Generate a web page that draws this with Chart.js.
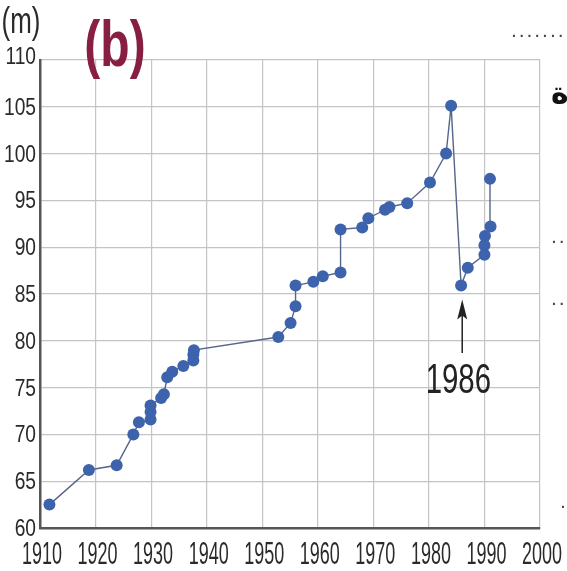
<!DOCTYPE html>
<html>
<head>
<meta charset="utf-8">
<script src="https://cdn.jsdelivr.net/npm/chart.js@4"></script>
<style>
  html, body { margin: 0; padding: 0; background: #ffffff; }
  #wrap { width: 567px; height: 571px; position: relative; }
</style>
</head>
<body>
<div id="wrap"><canvas id="levelChart"></canvas></div>
<script>
// water level readings
const years = [
    1911.7, 1918.8, 1923.8, 1926.8, 1927.8, 1929.9, 1929.9, 1929.9, 1931.8, 1932.3,
    1932.9, 1933.8, 1935.8, 1937.6, 1937.6, 1937.7, 1952.9, 1955.1, 1956.0, 1956.0,
    1959.2, 1960.9, 1964.1, 1964.1, 1968.0, 1969.1, 1972.1, 1972.9, 1976.1, 1980.2,
    1983.1, 1984.0, 1985.8, 1987.0, 1990.0, 1990.0, 1990.1, 1991.1, 1991.0
];
const levels = [
    62.5, 66.2, 66.7, 70.0, 71.3, 71.6, 72.4, 73.1, 73.9, 74.3,
    76.1, 76.7, 77.3, 77.9, 78.5, 79.0, 80.4, 81.9, 83.7, 85.9,
    86.3, 86.9, 87.3, 91.9, 92.1, 93.1, 94.0, 94.3, 94.7, 96.9,
    100.0, 105.1, 85.9, 87.8, 89.2, 90.2, 91.2, 92.2, 97.3
];
const yTickLabels = ['60', '65', '70', '75', '80', '85', '90', '95', '100', '105', '110'];
const xTickLabels = ['1910', '1920', '1930', '1940', '1950', '1960', '1970', '1980', '1990', '2000'];

// arrow note under the 1986 low
const noteYear = 1986;
const noteText = '1986';

const FONT = '"Liberation Sans", Arial, sans-serif';

// draws tick labels (condensed), title bits and the 1986 arrow
const decorPlugin = {
    id: 'decor',
    afterDraw(chart) {
        const ctx = chart.ctx;
        const xs = chart.scales.x;
        const ys = chart.scales.y;

        function squeezed(text, x, y, size, sx, align, color, weight) {
            ctx.save();
            ctx.font = (weight || 'normal') + ' ' + size + 'px ' + FONT;
            ctx.fillStyle = color || '#222';
            ctx.textAlign = align;
            ctx.textBaseline = 'alphabetic';
            ctx.translate(x, y);
            ctx.scale(sx, 1);
            ctx.fillText(text, 0, 0);
            ctx.restore();
        }

        // y tick labels
        yTickLabels.forEach(t => {
            const py = ys.getPixelForValue(Number(t));
            const lift = t === '110' ? 4 : 0;
            squeezed(t, 36, py + 8 - lift, 24, 0.8, 'right', '#2a2a2a');
        });
        // x tick labels
        xTickLabels.forEach(t => {
            const px = xs.getPixelForValue(Number(t));
            squeezed(t, px + 2, 564, 31, 0.58, 'center', '#2a2a2a');
        });

        // unit and panel letter
        squeezed('(m)', 21, 33, 36, 0.72, 'center', '#2a2a2a');
        squeezed('(b)', 115, 66, 64, 0.75, 'center', '#861f41', 'bold');

        // 1986 arrow
        const ax = xs.getPixelForValue(noteYear);
        const tipY = ys.getPixelForValue(84.4);
        const baseY = ys.getPixelForValue(78.7);
        ctx.save();
        ctx.strokeStyle = '#222';
        ctx.lineWidth = 1.5;
        ctx.beginPath();
        ctx.moveTo(ax, baseY);
        ctx.lineTo(ax, tipY + 6);
        ctx.stroke();
        ctx.fillStyle = '#222';
        ctx.beginPath();
        ctx.moveTo(ax, tipY);
        ctx.lineTo(ax - 5, tipY + 20);
        ctx.lineTo(ax, tipY + 16);
        ctx.lineTo(ax + 5, tipY + 20);
        ctx.closePath();
        ctx.fill();
        ctx.restore();
        squeezed(noteText, xs.getPixelForValue(1985.3), ys.getPixelForValue(74.4), 42, 0.7, 'center', '#222');

        // cut-off bits of the page on the right
        ctx.save();
        ctx.fillStyle = '#444';
        ctx.font = 'bold 14px ' + FONT;
        ctx.textAlign = 'left';
        ctx.fillText('. . . . . . .', 512, 37);
        ctx.fillText('. .', 552, 243);
        ctx.fillText('. .', 552, 305);
        ctx.fillText('.', 561, 508);
        ctx.fillStyle = '#111';
        ctx.font = 'bold 30px "DejaVu Sans", sans-serif';
        ctx.fillText('ة', 551, 103);
        ctx.restore();
    }
};

const ctx = document.getElementById('levelChart');
new Chart(ctx, {
    type: 'scatter',
    data: {
        datasets: [{
            data: years.map((y, i) => ({ x: y, y: levels[i] })),
            showLine: true,
            borderColor: '#56658a',
            borderWidth: 1.4,
            pointRadius: 6,
            pointBackgroundColor: '#3d63ad',
            pointBorderWidth: 0,
            pointHoverRadius: 6
        }]
    },
    options: {
        responsive: true,
        maintainAspectRatio: false,
        animation: false,
        layout: {
            padding: { left: 40, right: 27, top: 60, bottom: 43 }
        },
        scales: {
            x: {
                type: 'linear',
                min: 1910,
                max: 2000,
                ticks: { stepSize: 10, display: false },
                grid: { color: '#c4c4c4', lineWidth: 1.2, drawTicks: false },
                border: { color: '#555', width: 2.5 }
            },
            y: {
                min: 60,
                max: 110,
                ticks: { stepSize: 5, display: false },
                grid: { color: '#c4c4c4', lineWidth: 1.2, drawTicks: false },
                border: { color: '#555', width: 2.5 }
            }
        },
        plugins: {
            legend: { display: false },
            tooltip: { enabled: false }
        }
    },
    plugins: [decorPlugin]
});
</script>
</body>
</html>
